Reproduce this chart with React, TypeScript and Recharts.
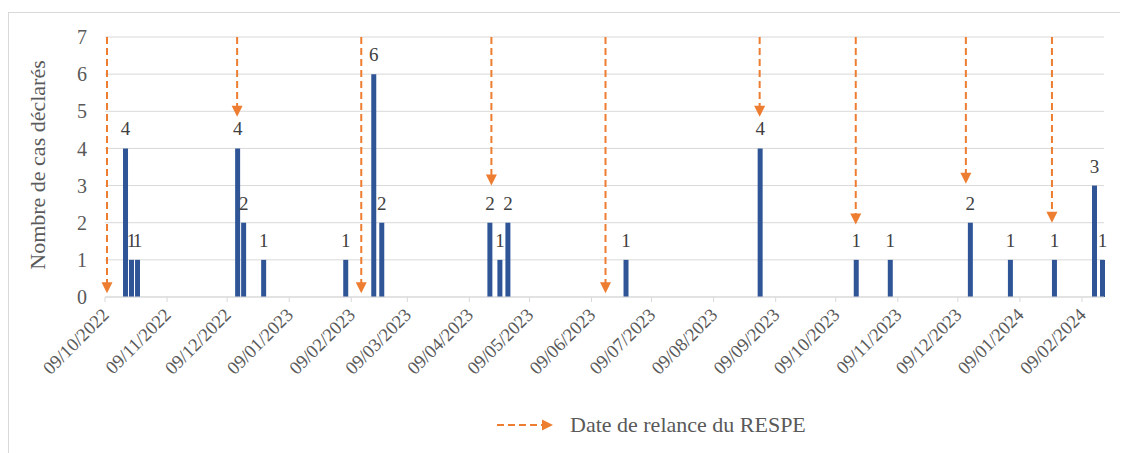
import React from 'react'
import { ComposedChart, Bar, XAxis, YAxis, CartesianGrid, ReferenceLine, LabelList } from 'recharts'

// dates are dd/mm/yyyy, as in the figure
const caseDates = [
  '19/10/2022', '22/10/2022', '25/10/2022', '14/12/2022', '17/12/2022', '27/12/2022',
  '06/02/2023', '20/02/2023', '24/02/2023', '19/04/2023', '24/04/2023', '28/04/2023',
  '26/06/2023', '01/09/2023', '19/10/2023', '05/11/2023', '15/12/2023', '04/01/2024',
  '26/01/2024', '15/02/2024', '19/02/2024',
]
const caseCounts = [4, 1, 1, 4, 2, 1, 1, 6, 2, 2, 1, 2, 1, 4, 1, 1, 2, 1, 1, 3, 1]

const relanceDates = [
  '10/10/2022', '14/12/2022', '14/02/2023', '20/04/2023', '16/06/2023',
  '01/09/2023', '19/10/2023', '13/12/2023', '25/01/2024',
]
// where each arrow stops (in "cases" units)
const relanceEnds = [0.1, 4.85, 0.1, 3, 0.1, 4.85, 1.95, 3.05, 2]

const tickLabels = [
  '09/10/2022', '09/11/2022', '09/12/2022', '09/01/2023', '09/02/2023', '09/03/2023',
  '09/04/2023', '09/05/2023', '09/06/2023', '09/07/2023', '09/08/2023', '09/09/2023',
  '09/10/2023', '09/11/2023', '09/12/2023', '09/01/2024', '09/02/2024',
]
const yTicks = [0, 1, 2, 3, 4, 5, 6, 7]

const ORIGIN = Date.UTC(2022, 9, 9)
const DAY = 86400000
const toDay = (s: string) => {
  const [d, m, y] = s.split('/').map(Number)
  return (Date.UTC(y, m - 1, d) - ORIGIN) / DAY
}
const fromDay = (n: number) => {
  const dt = new Date(ORIGIN + n * DAY)
  const dd = String(dt.getUTCDate()).padStart(2, '0')
  const mm = String(dt.getUTCMonth() + 1).padStart(2, '0')
  return `${dd}/${mm}/${dt.getUTCFullYear()}`
}

const data = caseDates.map((d, i) => ({ day: toDay(d), count: caseCounts[i] }))

const FONT = '"Liberation Serif", "DejaVu Serif", serif'
const ORANGE = '#ED7D31'
const BLUE = '#2F5597'
const GREY_TEXT = '#595959'

const DateTick = (props: any) => {
  const { x, y, payload } = props
  return (
    <g transform={`translate(${x + 5},${y + 12})`}>
      <text x={0} y={0} textAnchor="end" transform="rotate(-45)" fill={GREY_TEXT} fontSize={18.5} fontFamily={FONT}>
        {fromDay(payload.value)}
      </text>
    </g>
  )
}

const Arrow = (props: any) => {
  const { x1, y1, x2, y2 } = props
  if (x1 == null) return <g />
  return (
    <g>
      <line x1={x1} y1={y1} x2={x2} y2={y2 - 10} stroke={ORANGE} strokeWidth={2} strokeDasharray="7 4" />
      <path d={`M${x2 - 5.5},${y2 - 11} L${x2 + 5.5},${y2 - 11} L${x2},${y2} Z`} fill={ORANGE} />
    </g>
  )
}

export default function App() {
  return (
    <div
      style={{
        position: 'relative',
        marginTop: 4,
        width: 1119,
        height: 440,
        borderLeft: '1px solid #d9d9d9',
        borderTop: '1px solid #d9d9d9',
        overflow: 'hidden',
        fontFamily: FONT,
      }}
    >
      <ComposedChart width={1119} height={440} data={data} margin={{ top: 24, right: 24, bottom: 56, left: 0 }}>
        <CartesianGrid vertical={false} stroke="#d9d9d9" />
        <XAxis
          dataKey="day"
          type="number"
          domain={[0, 499]}
          ticks={tickLabels.map(toDay)}
          interval={0}
          height={100}
          tick={<DateTick />}
          tickSize={5}
          stroke="#d9d9d9"
          axisLine={{ stroke: '#d9d9d9' }}
          tickLine={{ stroke: '#d9d9d9' }}
        />
        <YAxis
          type="number"
          domain={[0, 7]}
          ticks={yTicks}
          interval={0}
          width={96}
          axisLine={false}
          tickLine={false}
          tickMargin={12}
          tick={{ fill: GREY_TEXT, fontSize: 20, fontFamily: FONT }}
          label={{
            content: () => (
              <text
                x={28}
                y={152}
                transform="rotate(-90 28 152)"
                textAnchor="middle"
                dominantBaseline="central"
                fill={GREY_TEXT}
                fontSize={22}
                fontFamily={FONT}
              >
                Nombre de cas déclarés
              </text>
            ),
          }}
        />
        <Bar dataKey="count" fill={BLUE} barSize={5} isAnimationActive={false}>
          <LabelList dataKey="count" position="top" offset={13} fill="#404040" fontSize={19} fontFamily={FONT} />
        </Bar>
        {relanceDates.map((d, i) => (
          <ReferenceLine
            key={d}
            segment={[
              { x: toDay(d), y: 7 },
              { x: toDay(d), y: relanceEnds[i] },
            ]}
            shape={Arrow}
            ifOverflow="visible"
          />
        ))}
      </ComposedChart>
      <div style={{ position: 'absolute', left: 488, top: 401, height: 22, display: 'flex', alignItems: 'center' }}>
        <svg width={56} height={14}>
          <line x1={0} y1={7} x2={46} y2={7} stroke={ORANGE} strokeWidth={2} strokeDasharray="7 4" />
          <path d="M45,1.5 L56,7 L45,12.5 Z" fill={ORANGE} />
        </svg>
        <span style={{ marginLeft: 17, fontSize: 22, color: GREY_TEXT, fontFamily: FONT }}>Date de relance du RESPE</span>
      </div>
    </div>
  )
}
